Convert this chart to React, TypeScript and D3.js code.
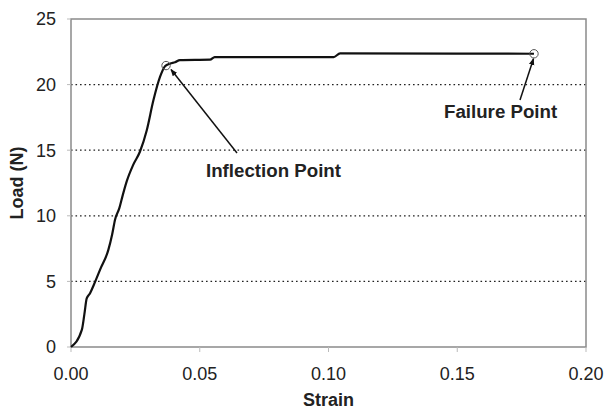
import React from "react";
import * as d3 from "d3";

const strain = [0, 0.0042, 0.0052, 0.0061, 0.0074, 0.009, 0.0113, 0.0145, 0.016, 0.0171, 0.0188, 0.02, 0.0216, 0.0242, 0.0268, 0.0294, 0.032, 0.0346, 0.0365, 0.0385, 0.0404, 0.0423, 0.054, 0.0558, 0.102, 0.1045, 0.1798];
const load = [0, 1.3, 2.5, 3.7, 4.1, 4.8, 5.9, 7.4, 8.6, 9.7, 10.6, 11.5, 12.6, 13.9, 14.9, 16.5, 18.8, 20.6, 21.4, 21.6, 21.7, 21.87, 21.9, 22.1, 22.1, 22.38, 22.35];

const xTicks = [0, 0.05, 0.1, 0.15, 0.2];
const yTicks = [0, 5, 10, 15, 20, 25];
const gridTicks = [5, 10, 15, 20];

const inflection = { strain: 0.0369, load: 21.45, label: "Inflection Point" };
const failure = { strain: 0.1798, load: 22.35, label: "Failure Point" };

const W = 605, H = 409;
const M = { left: 71, right: 586, top: 19, bottom: 347 };
const FONT = "'Liberation Sans', Arial, sans-serif";

export default function App() {
  const x = d3.scaleLinear().domain([0, 0.2]).range([M.left, M.right]);
  const y = d3.scaleLinear().domain([0, 25]).range([M.bottom, M.top]);
  const pts: [number, number][] = strain.map((s, i) => [s, load[i]]);
  const line = d3
    .line<[number, number]>()
    .x((d) => x(d[0]))
    .y((d) => y(d[1]))
    .curve(d3.curveMonotoneX);

  const ix = x(inflection.strain), iy = y(inflection.load);
  const fx = x(failure.strain), fy = y(failure.load);

  return (
    <svg
      width={W}
      height={H}
      style={{ position: "absolute", left: 0, top: 0, background: "#fff" }}
      fontFamily={FONT}
    >
      <defs>
        <marker id="arr" viewBox="0 0 10 10" refX="9" refY="5" markerWidth="7" markerHeight="7" orient="auto" markerUnits="userSpaceOnUse">
          <path d="M0,1 L10,5 L0,9 z" fill="#111" />
        </marker>
      </defs>
      <rect width={W} height={H} fill="#fff" />
      {gridTicks.map((t) => (
        <line key={t} x1={M.left} x2={M.right} y1={y(t)} y2={y(t)} stroke="#222" strokeWidth={1.3} strokeDasharray="1.6 2.9" />
      ))}
      <rect x={M.left} y={M.top} width={M.right - M.left} height={M.bottom - M.top} fill="none" stroke="#8a8a8a" strokeWidth={1.5} />
      {xTicks.map((t) => (
        <g key={"x" + t}>
          <line x1={x(t)} x2={x(t)} y1={M.bottom} y2={M.bottom + 5} stroke="#bbb" strokeWidth={1} />
          <text x={x(t)} y={380} textAnchor="middle" fontSize={18} fill="#222">
            {d3.format(".2f")(t)}
          </text>
        </g>
      ))}
      {yTicks.map((t) => (
        <g key={"y" + t}>
          <line x1={M.left - 4} x2={M.left} y1={y(t)} y2={y(t)} stroke="#bbb" strokeWidth={1} />
          <text x={56} y={y(t)} dy="0.35em" textAnchor="end" fontSize={18} fill="#222">
            {t}
          </text>
        </g>
      ))}
      <text x={(M.left + M.right) / 2} y={406} textAnchor="middle" fontSize={18} fontWeight="bold" fill="#222">
        Strain
      </text>
      <text transform={`translate(23,${(M.top + M.bottom) / 2}) rotate(-90)`} textAnchor="middle" fontSize={18} fontWeight="bold" fill="#222">
        Load (N)
      </text>
      <path d={line(pts) || ""} fill="none" stroke="#111" strokeWidth={2.2} strokeLinejoin="round" />
      <circle cx={ix} cy={iy} r={4.2} fill="none" stroke="#555" strokeWidth={1} />
      <circle cx={fx} cy={fy} r={4.2} fill="none" stroke="#555" strokeWidth={1} />
      <line x1={237} y1={153} x2={ix + 5} y2={iy + 4} stroke="#111" strokeWidth={1.5} markerEnd="url(#arr)" />
      <line x1={520} y1={100} x2={fx - 0.5} y2={fy + 5} stroke="#111" strokeWidth={1.5} markerEnd="url(#arr)" />
      <text x={206} y={177} fontSize={18.7} fontWeight="bold" fill="#222">
        {inflection.label}
      </text>
      <text x={444} y={118} fontSize={18.7} fontWeight="bold" fill="#222">
        {failure.label}
      </text>
    </svg>
  );
}
